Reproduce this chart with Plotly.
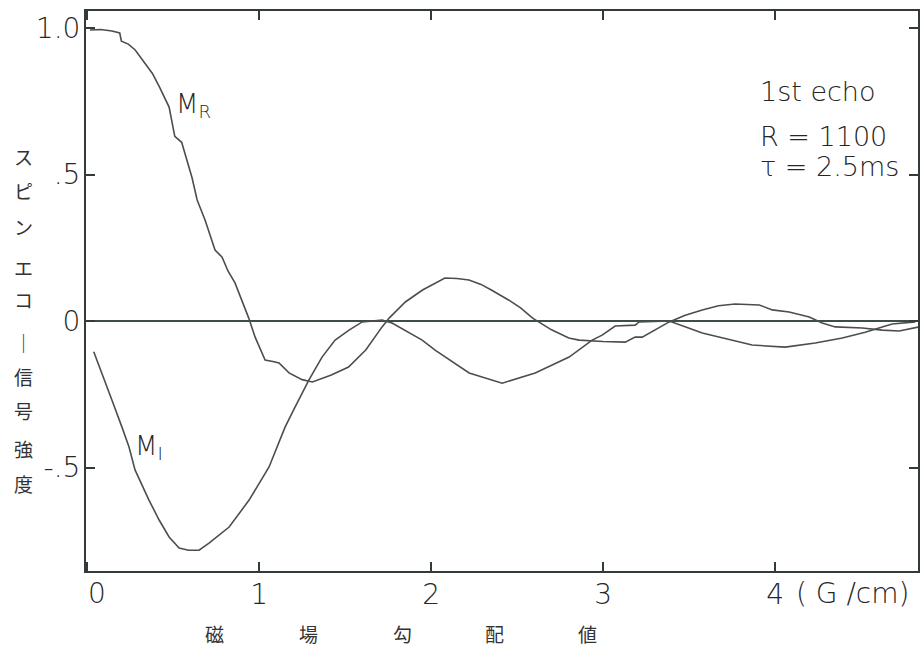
import plotly.graph_objects as go

x_mr = [0.017, 0.08, 0.145, 0.19, 0.2, 0.24, 0.28, 0.337, 0.38, 0.42, 0.477, 0.51, 0.55, 0.61, 0.64,
        0.686, 0.744, 0.785, 0.82, 0.86, 0.94, 0.977, 1.035, 1.08, 1.116, 1.174, 1.25, 1.31, 1.42,
        1.52, 1.62, 1.715, 1.756, 1.85, 1.95, 2.08, 2.15, 2.22, 2.29, 2.35, 2.45, 2.52, 2.59, 2.70,
        2.80, 2.86, 2.918, 3.0, 3.128, 3.186, 3.227, 3.30, 3.384, 3.477, 3.576, 3.67, 3.767, 3.907,
        3.983, 4.081, 4.198, 4.273, 4.349, 4.506, 4.622, 4.721, 4.837]
y_mr = [0.993, 0.995, 0.99, 0.983, 0.955, 0.945, 0.925, 0.88, 0.845, 0.80, 0.73, 0.63, 0.61, 0.49, 0.413,
        0.345, 0.242, 0.218, 0.17, 0.13, 0.01, -0.055, -0.133, -0.138, -0.143, -0.177, -0.2, -0.208, -0.184,
        -0.157, -0.099, -0.02, 0.01, 0.065, 0.106, 0.147, 0.145, 0.14, 0.125, 0.106, 0.072, 0.045, 0.01, -0.03,
        -0.058, -0.065, -0.068, -0.07, -0.072, -0.055, -0.055, -0.03, -0.003, 0.020, 0.038, 0.052, 0.058, 0.055,
        0.038, 0.031, 0.014, -0.007, -0.020, -0.024, -0.031, -0.034, -0.020]

# M_I (imaginary part) trace
x_mi = [0.039, 0.087, 0.145, 0.203, 0.244, 0.279, 0.36, 0.419, 0.477, 0.535, 0.59, 0.651, 0.709, 0.826,
        0.942, 1.058, 1.151, 1.209, 1.29, 1.366, 1.442, 1.523, 1.599, 1.715, 1.773, 1.948, 2.023, 2.221,
        2.413, 2.605, 2.802, 2.936, 2.994, 3.07, 3.186, 3.209, 3.30, 3.384, 3.576, 3.866, 4.058, 4.233,
        4.39, 4.523, 4.622, 4.68, 4.814]
y_mi = [-0.105, -0.177, -0.27, -0.362, -0.43, -0.508, -0.611, -0.679, -0.737, -0.775, -0.782, -0.782, -0.758, -0.703,
        -0.611, -0.498, -0.362, -0.294, -0.201, -0.123, -0.065, -0.031, -0.003, 0.003, -0.007, -0.065, -0.099, -0.177,
        -0.212, -0.177, -0.123, -0.065, -0.048, -0.017, -0.014, -0.003, -0.002, 0.0, -0.041, -0.082, -0.089, -0.075,
        -0.058, -0.038, -0.020, -0.010, -0.003]

x_ticks = [0, 1, 2, 3, 4]
x_tick_text = ["", "1", "2", "3", "4"]
y_ticks = [-0.5, 0, 0.5, 1.0]
y_tick_text = ["-.5", "0", ".5", "1.0"]

y_title_chars = ["ス", "ピ", "ン", "エ", "コ", "｜", "信", "号", "強", "度"]
x_title_chars = ["磁", "場", "勾", "配", "値"]
info_lines = ["1st echo", "R = 1100", "τ = 2.5ms"]

line_col = "#4a4f4d"
axis_col = "#333b38"
num_font = dict(family="DejaVu Sans, Roboto, sans-serif", size=28, color="#262626", weight=200)

fig = go.Figure()
fig.add_trace(go.Scatter(x=x_mr, y=y_mr, mode="lines", line=dict(color=line_col, width=1.6), showlegend=False))
fig.add_trace(go.Scatter(x=x_mi, y=y_mi, mode="lines", line=dict(color=line_col, width=1.6), showlegend=False))

fig.update_layout(
    width=922, height=650,
    margin=dict(l=86, r=4, t=11, b=79),
    paper_bgcolor="white", plot_bgcolor="white",
    showlegend=False,
)
fig.update_xaxes(
    range=[-0.006, 4.83], tickvals=x_ticks, ticktext=x_tick_text, automargin=False,
    showgrid=False, zeroline=False, showline=True, mirror="ticks",
    linecolor=axis_col, linewidth=2, ticks="inside", ticklen=9, tickwidth=2, tickcolor=axis_col,
    tickfont=num_font, ticklabelstandoff=-3,
)
fig.update_yaxes(
    range=[-0.853, 1.058], tickvals=y_ticks, ticktext=y_tick_text, automargin=False,
    showgrid=False, zeroline=True, zerolinecolor="#3d4d48", zerolinewidth=2,
    showline=True, mirror="ticks",
    linecolor=axis_col, linewidth=2, ticks="inside", ticklen=9, tickwidth=2, tickcolor=axis_col,
    tickfont=num_font, ticklabelstandoff=-2,
)

anns = []
# x tick label "0" (drawn slightly right of the corner, as in the original)
anns.append(dict(text="0", xref="x", yref="paper", x=0.058, y=(571 - 593) / 560, showarrow=False,
                 xanchor="center", yanchor="middle", font=num_font))
# y-axis title, vertical Japanese
y_char_px = [157, 190, 227, 267, 300, 342, 376, 410, 448, 483]
for ch, py in zip(y_title_chars, y_char_px):
    anns.append(dict(text=ch, xref="paper", yref="paper", x=(23 - 86) / 832, y=(571 - py) / 560,
                     showarrow=False, xanchor="center", yanchor="middle",
                     font=dict(family="Noto Sans CJK JP", size=19, color="#333")))
# x-axis title, spaced characters
x_char_pos = [0.738, 1.285, 1.831, 2.366, 2.907]
for ch, xv in zip(x_title_chars, x_char_pos):
    anns.append(dict(text=ch, xref="x", yref="paper", x=xv, y=(571 - 633) / 560,
                     showarrow=False, xanchor="center", yanchor="middle",
                     font=dict(family="Noto Sans CJK JP", size=19, color="#333")))
# units
anns.append(dict(text="( G /cm)", xref="x", yref="paper", x=4.11, y=(571 - 593) / 560,
                 showarrow=False, xanchor="left", yanchor="middle", font=num_font))
# info text
info_font = dict(family="DejaVu Sans, Roboto, sans-serif", size=27, color="#262626", weight=200)
for txt, yv in zip(info_lines, [0.785, 0.63, 0.526]):
    anns.append(dict(text=txt, xref="x", yref="y", x=3.9, y=yv, showarrow=False,
                     xanchor="left", yanchor="middle", font=info_font))
# curve labels
lab_font = dict(family="DejaVu Sans, Roboto, sans-serif", size=26, color="#262626", weight=200)
anns.append(dict(text="M<sub>R</sub>", xref="x", yref="y", x=0.505, y=0.735, showarrow=False,
                 xanchor="left", yanchor="middle", font=lab_font))
anns.append(dict(text="M<sub>I</sub>", xref="x", yref="y", x=0.265, y=-0.43, showarrow=False,
                 xanchor="left", yanchor="middle", font=lab_font))
fig.update_layout(annotations=anns)

fig.write_html("out.html", config={"displayModeBar": False},
               post_script="document.body.style.margin='0';document.body.style.overflow='hidden';")
